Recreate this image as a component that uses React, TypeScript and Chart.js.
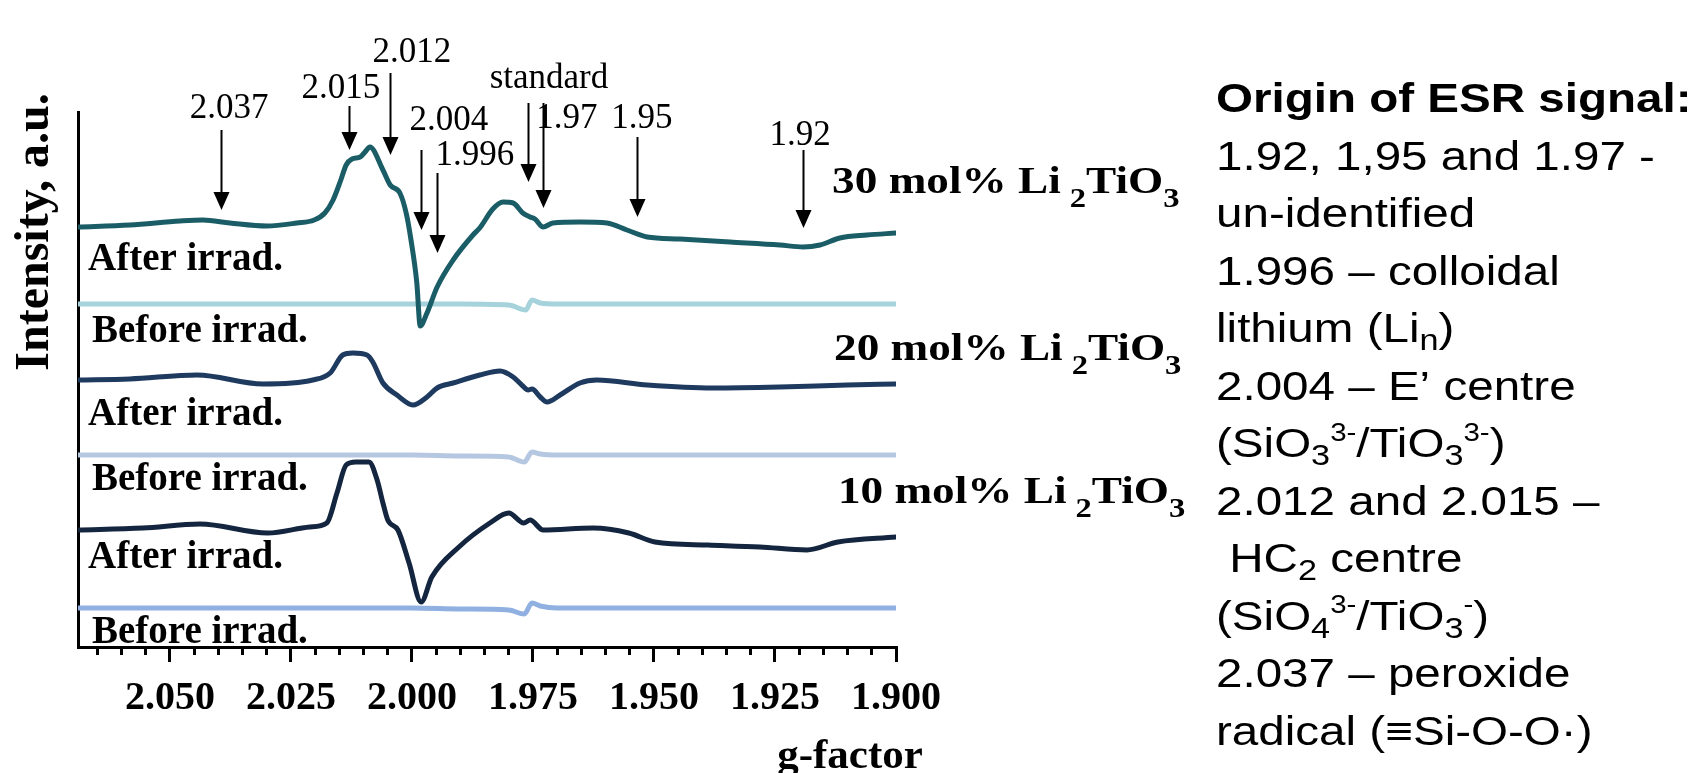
import React, { useEffect, useRef } from 'react';
import { Chart, registerables } from 'chart.js';

Chart.register(...registerables);

// ---------- axis ----------
const G_MIN = 1.9;
const G_MAX = 2.069;
const Y_MAX = 535;
const MAJOR_STEP = 0.025;
const MINOR_STEP = 0.005;

// ---------- stacking offsets (a.u.) ----------
const OFFSET_AFTER_30 = 421;
const OFFSET_BEFORE_30 = 343;
const OFFSET_AFTER_20 = 267;
const OFFSET_BEFORE_20 = 192;
const OFFSET_AFTER_10 = 117;
const OFFSET_BEFORE_10 = 39;

// ---------- 30 mol% ----------
const G_AFTER_30 = [2.069, 2.0583, 2.0479, 2.0432, 2.0376, 2.03, 2.0238, 2.0202, 2.018, 2.0163, 2.0147, 2.0136, 2.0124, 2.0107, 2.0097, 2.0087, 2.006, 2.0045, 2.0025, 2.0012, 2.0002, 1.999, 1.9983, 1.9969, 1.9948, 1.9915, 1.9874, 1.986, 1.9833, 1.9812, 1.9791, 1.9771, 1.9756, 1.9746, 1.9729, 1.9709, 1.9653, 1.9597, 1.9556, 1.9514, 1.9446, 1.9343, 1.924, 1.9192, 1.9157, 1.9116, 1.906, 1.9];
const I_AFTER_30 = [-1, 1, 5, 6, 3, 0, 3, 6, 13, 26, 46, 61, 67, 69, 74, 79, 56, 41, 33, 13, -14, -57, -100, -87, -61, -34, -9, -2, 17, 24, 23, 13, 9, 7, -1, 3, 4, 3, -4, -11, -13, -16, -19, -21, -19, -12, -9, -7];
const G_BEFORE_30 = [2.069, 2.0, 1.99, 1.98, 1.9765, 1.9752, 1.9735, 1.97, 1.9];
const I_BEFORE_30 = [0, 0, 0, -1, -6, 4, 1, 0, 0];

// ---------- 20 mol% ----------
const G_AFTER_20 = [2.069, 2.0583, 2.0444, 2.0308, 2.0205, 2.0169, 2.0143, 2.0122, 2.0093, 2.0081, 2.006, 2.0031, 1.9998, 1.9969, 1.9948, 1.9915, 1.986, 1.9818, 1.9791, 1.9771, 1.976, 1.9752, 1.9735, 1.9721, 1.9694, 1.9653, 1.9618, 1.9514, 1.9378, 1.924, 1.9101, 1.9];
const I_AFTER_20 = [0, 1, 5, -4, 0, 7, 25, 27, 25, 18, -3, -15, -25, -17, -8, -3, 5, 9, 3, -6, -10, -9, -17, -22, -15, -3, 0, -5, -8, -7, -5, -4];
const G_BEFORE_20 = [2.069, 2.0, 1.99, 1.98, 1.9768, 1.9752, 1.9735, 1.97, 1.9];
const I_BEFORE_20 = [0, 0, -1, -2, -7, 3, 1, 0, 0];

// ---------- 10 mol% ----------
const G_AFTER_10 = [2.069, 2.0556, 2.0438, 2.0298, 2.0211, 2.0176, 2.0155, 2.0136, 2.0116, 2.0089, 2.0072, 2.006, 2.005, 2.0029, 2.0006, 1.9981, 1.9959, 1.9903, 1.9839, 1.98, 1.9769, 1.9756, 1.9729, 1.9626, 1.9552, 1.9498, 1.9388, 1.9281, 1.9184, 1.912, 1.9];
const I_AFTER_10 = [0, 2, 6, -3, 3, 7, 37, 65, 68, 68, 50, 27, 10, 0, -33, -72, -47, -17, 7, 17, 7, 10, 0, 2, -3, -12, -15, -17, -20, -12, -7];
const G_BEFORE_10 = [2.069, 2.0, 1.99, 1.98, 1.9768, 1.9752, 1.9735, 1.97, 1.9];
const I_BEFORE_10 = [0, 0, -1, -2, -6, 5, 2, 0, 0];

// ---------- arrow annotations (g, tail, tip, label) ----------
const ARROW_LABELS = ['2.037', '2.015', '2.012', '2.004', '1.996', 'standard', '1.97', '1.95', '1.92'];
const ARROW_G = [2.0395, 2.013, 2.0045, 1.9981, 1.9948, 1.976, 1.9729, 1.9535, 1.9192];
const ARROW_TAIL = [517, 541, 574, 497, 474, 544, 544, 510, 497];
const ARROW_TIP = [437, 497, 492, 417, 394, 465, 439, 430, 419];
const LABEL_G = [2.0378, 2.0147, 2.0, 1.9924, 1.987, 1.9717, 1.968, 1.9525, 1.9198];
const LABEL_Y = [529, 549, 585, 517, 482, 559, 519, 519, 502];

// ---------- trace labels ----------
const TRACE_LABELS = ['After irrad.', 'Before irrad.', 'After irrad.', 'Before irrad.', 'After irrad.', 'Before irrad.'];
const TRACE_LABEL_Y = [377, 305, 222, 157, 79, 4];
const COMPOSITIONS = ['30', '20', '10'];
const COMPOSITION_G = [1.9132, 1.9128, 1.912];
const COMPOSITION_Y = [454, 287, 144];

const COLORS = ['#1b5d66', '#a6d2dc', '#1e3a5f', '#b6c8e1', '#13253f', '#8fb0e0'];

type Run = { t: string; m?: 'sub' | 'sup' };
const NOTES: { bold?: boolean; runs: Run[] }[] = [
  { bold: true, runs: [{ t: 'Origin of ESR signal:' }] },
  { runs: [{ t: '1.92, 1,95 and 1.97 -' }] },
  { runs: [{ t: 'un-identified' }] },
  { runs: [{ t: '1.996 \u2013 colloidal' }] },
  { runs: [{ t: 'lithium (Li' }, { t: 'n', m: 'sub' }, { t: ')' }] },
  { runs: [{ t: '2.004 \u2013 E\u2019 centre' }] },
  { runs: [{ t: '(SiO' }, { t: '3', m: 'sub' }, { t: '3-', m: 'sup' }, { t: '/TiO' }, { t: '3', m: 'sub' }, { t: '3-', m: 'sup' }, { t: ')' }] },
  { runs: [{ t: '2.012 and 2.015 \u2013' }] },
  { runs: [{ t: ' HC' }, { t: '2', m: 'sub' }, { t: ' centre' }] },
  { runs: [{ t: '(SiO' }, { t: '4', m: 'sub' }, { t: '3-', m: 'sup' }, { t: '/TiO' }, { t: '3', m: 'sub' }, { t: '-', m: 'sup' }, { t: ')' }] },
  { runs: [{ t: '2.037 \u2013 peroxide' }] },
  { runs: [{ t: 'radical (\u2261Si-O-O\u00b7)' }] },
];

const SERIF = '"Liberation Serif", "Times New Roman", serif';
const SANS = '"Liberation Sans", Arial, sans-serif';

function pts(g: number[], v: number[], off: number) {
  return g.map((x, i) => ({ x, y: off + v[i] }));
}

function drawRuns(
  ctx: CanvasRenderingContext2D,
  runs: Run[],
  x: number,
  y: number,
  size: number,
  family: string,
  weight: string,
  scaleX: number,
  subScale: number,
  subDrop: number,
  supScale: number,
  supRise: number
) {
  ctx.save();
  ctx.translate(x, y);
  ctx.scale(scaleX, 1);
  let cx = 0;
  for (const r of runs) {
    const s = r.m === 'sub' ? size * subScale : r.m === 'sup' ? size * supScale : size;
    const dy = r.m === 'sub' ? size * subDrop : r.m === 'sup' ? -size * supRise : 0;
    ctx.font = `${weight} ${s}px ${family}`;
    ctx.fillText(r.t, cx, dy);
    cx += ctx.measureText(r.t).width;
  }
  ctx.restore();
}

const onGrid = (v: number, step: number) => Math.abs(v / step - Math.round(v / step)) < 1e-6;

const overlay = {
  id: 'overlay',
  afterDraw(chart: any) {
    const ctx: CanvasRenderingContext2D = chart.ctx;
    const xs = chart.scales.x;
    const ys = chart.scales.y;
    const area = chart.chartArea;
    ctx.save();
    ctx.fillStyle = '#000';
    ctx.strokeStyle = '#000';
    ctx.textBaseline = 'alphabetic';

    // arrows
    ctx.lineWidth = 2;
    for (let i = 0; i < ARROW_G.length; i++) {
      const x = Math.round(xs.getPixelForValue(ARROW_G[i])) + 0.5;
      const y0 = ys.getPixelForValue(ARROW_TAIL[i]);
      const y1 = ys.getPixelForValue(ARROW_TIP[i]);
      ctx.beginPath();
      ctx.moveTo(x, y0);
      ctx.lineTo(x, y1 - 12);
      ctx.stroke();
      ctx.beginPath();
      ctx.moveTo(x - 8, y1 - 18);
      ctx.lineTo(x + 8, y1 - 18);
      ctx.lineTo(x, y1);
      ctx.closePath();
      ctx.fill();
    }
    ctx.font = `35px ${SERIF}`;
    ctx.textAlign = 'center';
    for (let i = 0; i < ARROW_LABELS.length; i++) {
      ctx.fillText(ARROW_LABELS[i], xs.getPixelForValue(LABEL_G[i]), ys.getPixelForValue(LABEL_Y[i]));
    }

    // trace labels
    ctx.textAlign = 'left';
    ctx.font = `bold 39px ${SERIF}`;
    for (let i = 0; i < TRACE_LABELS.length; i++) {
      const dx = TRACE_LABELS[i].startsWith('After') ? 10 : 14;
      ctx.fillText(TRACE_LABELS[i], area.left + dx, ys.getPixelForValue(TRACE_LABEL_Y[i]));
    }

    // compositions
    for (let i = 0; i < COMPOSITIONS.length; i++) {
      drawRuns(
        ctx,
        [{ t: `${COMPOSITIONS[i]} mol% Li` }, { t: '\u2009' }, { t: '2', m: 'sub' }, { t: 'TiO' }, { t: '3', m: 'sub' }],
        xs.getPixelForValue(COMPOSITION_G[i]),
        ys.getPixelForValue(COMPOSITION_Y[i]),
        38, SERIF, 'bold', 1.19, 0.72, 0.38, 0.6, 0.4
      );
    }

    // axis titles
    ctx.font = `bold 43px ${SERIF}`;
    ctx.textAlign = 'center';
    ctx.fillText('g-factor', 850, 768);
    ctx.save();
    ctx.translate(48, 232);
    ctx.rotate(-Math.PI / 2);
    ctx.font = `bold 48px ${SERIF}`;
    ctx.fillText('Intensity, a.u.', 0, 0);
    ctx.restore();

    // notes panel
    ctx.textAlign = 'left';
    for (let i = 0; i < NOTES.length; i++) {
      const n = NOTES[i];
      drawRuns(ctx, n.runs, 1216, 112 + 57.5 * i, 41, SANS, n.bold ? 'bold' : 'normal', 1.16, 0.72, 0.2, 0.62, 0.4);
    }
    ctx.restore();
  },
};

export default function App() {
  const ref = useRef<HTMLCanvasElement | null>(null);
  useEffect(() => {
    document.body.style.margin = '0';
    document.body.style.overflow = 'hidden';
    const canvas = ref.current!;
    const mk = (label: string, g: number[], v: number[], off: number, color: string) => ({
      label,
      data: pts(g, v, off),
      borderColor: color,
      backgroundColor: color,
      borderWidth: 5,
      pointRadius: 0,
      cubicInterpolationMode: 'monotone' as const,
      borderCapStyle: 'round' as const,
      borderJoinStyle: 'round' as const,
      fill: false,
    });
    const chart = new Chart(canvas, {
      type: 'line',
      data: {
        datasets: [
          mk('30 after', G_AFTER_30, I_AFTER_30, OFFSET_AFTER_30, COLORS[0]),
          mk('30 before', G_BEFORE_30, I_BEFORE_30, OFFSET_BEFORE_30, COLORS[1]),
          mk('20 after', G_AFTER_20, I_AFTER_20, OFFSET_AFTER_20, COLORS[2]),
          mk('20 before', G_BEFORE_20, I_BEFORE_20, OFFSET_BEFORE_20, COLORS[3]),
          mk('10 after', G_AFTER_10, I_AFTER_10, OFFSET_AFTER_10, COLORS[4]),
          mk('10 before', G_BEFORE_10, I_BEFORE_10, OFFSET_BEFORE_10, COLORS[5]),
        ],
      },
      options: {
        responsive: false,
        animation: false,
        devicePixelRatio: 1,
        layout: { padding: { top: 112, right: 807, bottom: 0, left: 0 } },
        plugins: { legend: { display: false }, tooltip: { enabled: false } },
        scales: {
          xMinor: {
            type: 'linear',
            position: 'bottom',
            reverse: true,
            min: G_MIN,
            max: G_MAX,
            bounds: 'data',
            weight: -1,
            afterFit: (s: any) => { s.height = 0; },
            afterBuildTicks: (s: any) => { s.ticks = s.ticks.filter((t: any) => onGrid(t.value, MINOR_STEP)); },
            ticks: { display: false, stepSize: MINOR_STEP, includeBounds: false },
            grid: { display: true, drawOnChartArea: false, drawTicks: true, tickLength: 8, color: '#000', lineWidth: 3 },
            border: { display: false },
          },
          x: {
            type: 'linear',
            position: 'bottom',
            reverse: true,
            min: G_MIN,
            max: G_MAX,
            bounds: 'data',
            afterFit: (s: any) => { s.height = 126; },
            afterBuildTicks: (s: any) => { s.ticks = s.ticks.filter((t: any) => onGrid(t.value, MAJOR_STEP)); },
            ticks: {
              stepSize: MAJOR_STEP,
              includeBounds: false,
              padding: 13,
              color: '#000',
              maxRotation: 0,
              autoSkip: false,
              font: { family: SERIF, size: 40, weight: 'bold' },
              callback: (v: any) => Number(v).toFixed(3),
            },
            grid: { display: true, drawOnChartArea: false, drawTicks: true, tickLength: 15, color: '#000', lineWidth: 3 },
            border: { display: true, color: '#000', width: 3 },
          },
          y: {
            type: 'linear',
            position: 'left',
            min: 0,
            max: Y_MAX,
            afterFit: (s: any) => { s.width = 78; },
            ticks: { display: false },
            grid: { display: false },
            border: { display: true, color: '#000', width: 3 },
          },
        },
      } as any,
      plugins: [overlay],
    });
    return () => chart.destroy();
  }, []);
  return (
    <div style={{ width: 1703, height: 773, background: '#fff' }}>
      <canvas ref={ref} width={1703} height={773} style={{ display: 'block', width: 1703, height: 773 }} />
    </div>
  );
}
